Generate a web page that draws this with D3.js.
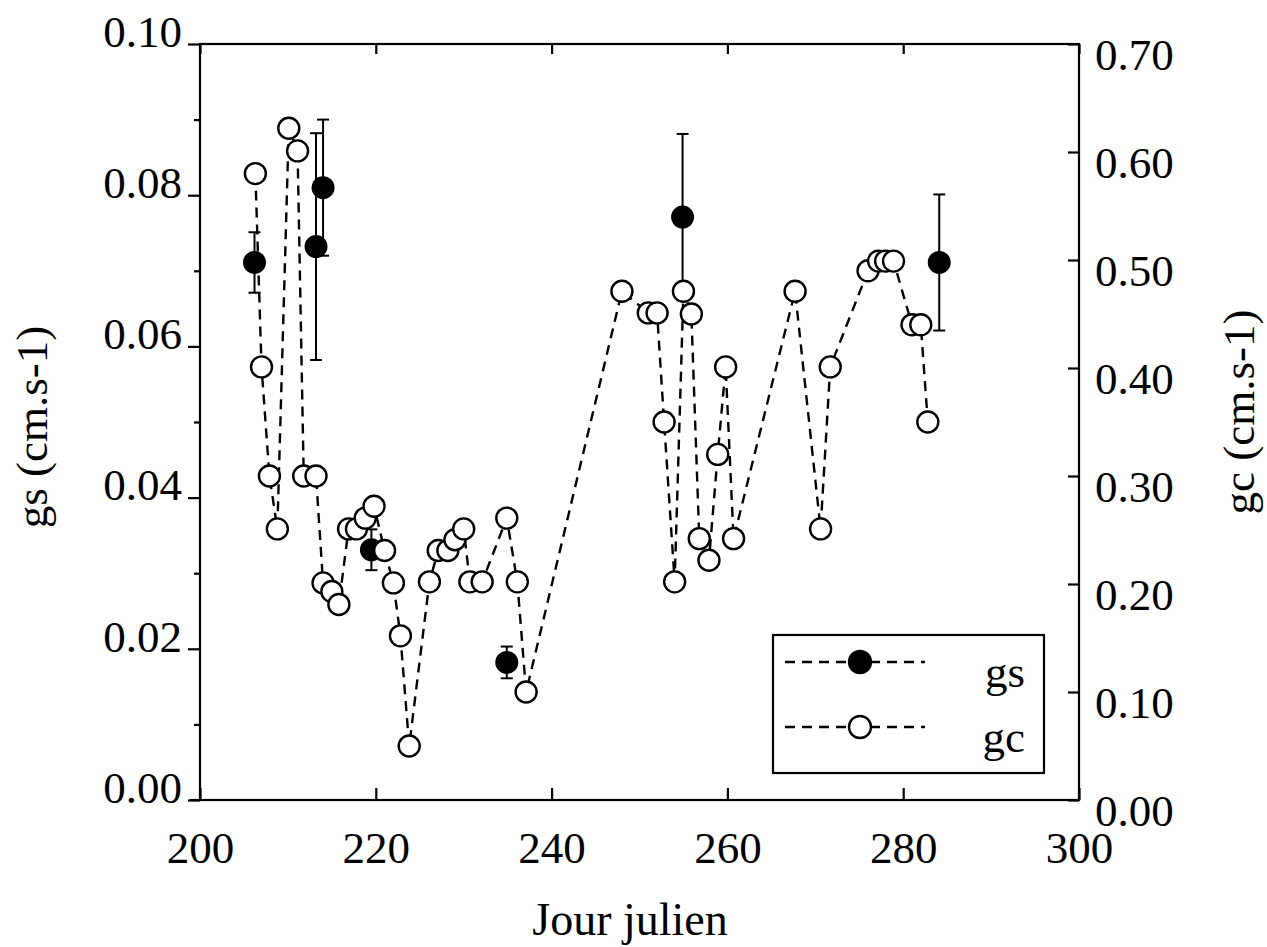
<!DOCTYPE html>
<html><head><meta charset="utf-8">
<script src="https://cdn.jsdelivr.net/npm/d3@7"></script>
<style>
body{margin:0;background:#fff;}
text{font-family:"Liberation Serif","Times New Roman",serif;fill:#000;}
</style></head>
<body><svg id="c" width="1267" height="947"></svg>
<script>
// gs (filled, left axis) with error bars
const gsDays = [206.2, 213.2, 214.0, 219.5, 234.9, 254.9, 284.1];
const gsVals = [0.0711, 0.0732, 0.0810, 0.0331, 0.0182, 0.0771, 0.0711];
const gsErr  = [0.0040, 0.0150, 0.0090, 0.0027, 0.0021, 0.0110, 0.0090];
// gc (open, right axis)
const gcDays = [206.3, 207.0, 207.9, 208.8, 210.1, 211.1, 211.8, 213.2, 214.0, 215.0, 215.8,
  216.9, 217.8, 218.8, 219.8, 221.0, 222.0, 222.8, 223.8, 226.1, 227.1, 228.2, 229.0, 230.0,
  230.7, 232.1, 234.9, 236.1, 237.1, 248.0, 251.0, 252.0, 252.8, 254.0, 255.0, 255.9, 256.8,
  257.9, 258.9, 259.8, 260.7, 267.7, 270.6, 271.7, 276.0, 277.2, 278.0, 278.9, 281.0, 282.0, 282.8];
const gcVals = [0.580, 0.401, 0.300, 0.251, 0.622, 0.601, 0.300, 0.300, 0.201, 0.193, 0.181,
  0.251, 0.251, 0.261, 0.272, 0.231, 0.201, 0.152, 0.050, 0.202, 0.231, 0.231, 0.241, 0.251,
  0.202, 0.202, 0.261, 0.202, 0.100, 0.471, 0.451, 0.451, 0.350, 0.202, 0.471, 0.450, 0.242,
  0.222, 0.320, 0.401, 0.242, 0.471, 0.251, 0.401, 0.490, 0.499, 0.499, 0.499, 0.440, 0.440, 0.350];
const xTicks = [200, 220, 240, 260, 280, 300];
const gsTicks = [0, 0.02, 0.04, 0.06, 0.08, 0.10];
const gsMinor = [0.01, 0.03, 0.05, 0.07, 0.09];
const gcTicks = [0, 0.1, 0.2, 0.3, 0.4, 0.5, 0.6, 0.7];
const legendLabels = ["gs", "gc"];

const svg = d3.select("#c");
const L = 200, R = 1079, T = 44, B = 800;
const x = d3.scaleLinear().domain([200, 300]).range([L, R]);
const yL = d3.scaleLinear().domain([0, 0.10]).range([B, T]);
const yR = d3.scaleLinear().domain([0, 0.70]).range([B, T]);
const FS = 45;

function styleAxis(g){
  g.select(".domain").remove();
  g.selectAll("line").attr("stroke","#000").attr("stroke-width",2.2);
  g.selectAll("text").attr("font-size",FS).attr("fill","#000");
}

// left axis minor
svg.append("g").attr("transform",`translate(${L},0)`)
  .call(d3.axisLeft(yL).tickValues(gsMinor).tickSize(6).tickFormat(""))
  .call(styleAxis);
// left axis major
svg.append("g").attr("transform",`translate(${L},0)`)
  .call(d3.axisLeft(yL).tickValues(gsTicks).tickSize(12).tickPadding(6).tickFormat(d3.format(".2f")))
  .call(styleAxis)
  .call(g=>g.selectAll("text").attr("dy","0.05em"));
// right axis
svg.append("g").attr("transform",`translate(${R},0)`)
  .call(d3.axisRight(yR).tickValues(gcTicks).tickSize(-11).tickPadding(17).tickFormat(d3.format(".2f")))
  .call(styleAxis)
  .call(g=>g.selectAll("text").attr("x",16).attr("dy",25));
// bottom axis
svg.append("g").attr("transform",`translate(0,${B})`)
  .call(d3.axisBottom(x).tickValues(xTicks).tickSize(-12).tickPadding(31).tickFormat(d3.format("d")))
  .call(styleAxis)
  .call(g=>g.selectAll("text").attr("y",31));
// top axis
svg.append("g").attr("transform",`translate(0,${T})`)
  .call(d3.axisTop(x).tickValues(xTicks).tickSize(-10).tickFormat(""))
  .call(styleAxis);

// frame
svg.append("rect").attr("x",L).attr("y",T).attr("width",R-L).attr("height",B-T)
  .attr("fill","none").attr("stroke","#000").attr("stroke-width",2.2);
svg.append("line").attr("x1",L-10).attr("x2",L).attr("y1",B).attr("y2",B).attr("stroke","#000").attr("stroke-width",2.2);

// axis titles
svg.append("text").attr("transform","translate(47,427) rotate(-90)").attr("text-anchor","middle")
  .attr("font-size",45).text("gs (cm.s-1)");
svg.append("text").attr("transform","translate(1254,412) rotate(-90)").attr("text-anchor","middle")
  .attr("font-size",45).text("gc (cm.s-1)");
svg.append("text").attr("x",630).attr("y",935).attr("text-anchor","middle")
  .attr("font-size",46).text("Jour julien");

// gs error bars
const gsData = gsDays.map((d,i)=>({d, v:gsVals[i], e:gsErr[i]}));
const eb = svg.append("g").attr("stroke","#000").attr("stroke-width",2);
gsData.forEach(p=>{
  eb.append("line").attr("x1",x(p.d)).attr("x2",x(p.d)).attr("y1",yL(p.v+p.e)).attr("y2",yL(p.v-p.e));
  [p.v+p.e, p.v-p.e].forEach(v=>{
    eb.append("line").attr("x1",x(p.d)-6).attr("x2",x(p.d)+6).attr("y1",yL(v)).attr("y2",yL(v));
  });
});
svg.append("g").selectAll("circle").data(gsData).join("circle")
  .attr("cx",p=>x(p.d)).attr("cy",p=>yL(p.v)).attr("r",11.5).attr("fill","#000");

// gc line + circles
const gcData = gcDays.map((d,i)=>({d, v:gcVals[i]}));
svg.append("path").datum(gcData)
  .attr("d", d3.line().x(p=>x(p.d)).y(p=>yR(p.v)))
  .attr("fill","none").attr("stroke","#000").attr("stroke-width",2.4).attr("stroke-dasharray","10,7");
const gcG = svg.append("g");
gcData.forEach(p=>{
  gcG.append("circle").attr("cx",x(p.d)).attr("cy",yR(p.v)).attr("r",10.5)
    .attr("fill","#fff").attr("stroke","#000").attr("stroke-width",2.4);
});

// legend
const lg = svg.append("g");
lg.append("rect").attr("x",773).attr("y",635).attr("width",271).attr("height",138)
  .attr("fill","#fff").attr("stroke","#000").attr("stroke-width",2.2);
const rows = [{y:662, fill:"#000"}, {y:727, fill:"#fff"}];
rows.forEach((r,i)=>{
  lg.append("line").attr("x1",785).attr("x2",925).attr("y1",r.y).attr("y2",r.y)
    .attr("stroke","#000").attr("stroke-width",2.4).attr("stroke-dasharray","10,7");
  lg.append("circle").attr("cx",860).attr("cy",r.y).attr("r",11)
    .attr("fill",r.fill).attr("stroke","#000").attr("stroke-width",2.4);
  lg.append("text").attr("x",1025).attr("y",r.y+25).attr("text-anchor","end")
    .attr("font-size",45).text(legendLabels[i]);
});
</script></body></html>
